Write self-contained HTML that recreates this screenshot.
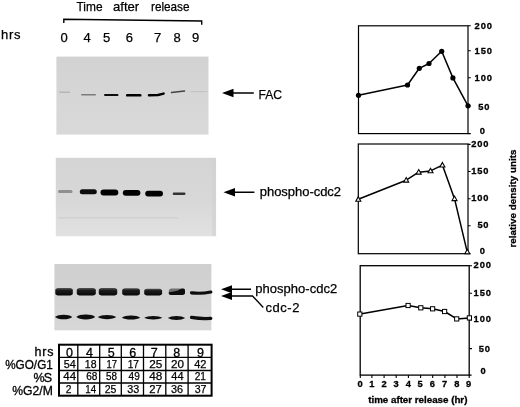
<!DOCTYPE html>
<html>
<head>
<meta charset="utf-8">
<title>Time after release</title>
<style>
html,body{margin:0;padding:0;background:#fff;}
body{width:520px;height:407px;overflow:hidden;}
svg{display:block;}
text{font-family:"Liberation Sans",sans-serif;fill:#000;}
.lab{font-size:13px;stroke:#000;stroke-width:0.25px;}
.ax{font-size:9.3px;font-weight:bold;stroke:#000;stroke-width:0.3px;}
.hd{font-size:12.5px;stroke:#000;stroke-width:0.3px;}
.cell{font-size:11px;stroke:#000;stroke-width:0.25px;}
</style>
</head>
<body>
<svg width="520" height="407" viewBox="0 0 520 407">
<defs>
  <filter id="b1" x="-20%" y="-100%" width="140%" height="300%"><feGaussianBlur stdDeviation="0.6"/></filter>
  <filter id="b2" x="-20%" y="-100%" width="140%" height="300%"><feGaussianBlur stdDeviation="0.9"/></filter>
  <filter id="b3" x="-20%" y="-100%" width="140%" height="300%"><feGaussianBlur stdDeviation="0.7"/></filter>
  <filter id="bg" x="-5%" y="-5%" width="110%" height="110%"><feGaussianBlur stdDeviation="0.7"/></filter>
  <linearGradient id="g1" x1="0" y1="0" x2="0" y2="1">
    <stop offset="0" stop-color="#d2d2d2"/><stop offset="0.5" stop-color="#d6d6d6"/><stop offset="1" stop-color="#d9d9d9"/>
  </linearGradient>
  <linearGradient id="g2" x1="0" y1="0" x2="0" y2="1">
    <stop offset="0" stop-color="#d4d4d4"/><stop offset="0.55" stop-color="#d8d8d8"/><stop offset="1" stop-color="#e1e1e1"/>
  </linearGradient>
  <linearGradient id="g3" x1="0" y1="0" x2="0" y2="1">
    <stop offset="0" stop-color="#cfcfcf"/><stop offset="0.5" stop-color="#d3d3d3"/><stop offset="1" stop-color="#d7d7d7"/>
  </linearGradient>
  <linearGradient id="gb" x1="0" y1="0" x2="0" y2="1">
    <stop offset="0" stop-color="#555"/><stop offset="0.3" stop-color="#1c1c1c"/><stop offset="1" stop-color="#060606"/>
  </linearGradient>
</defs>
<rect width="520" height="407" fill="#fff"/>

<!-- header -->
<text class="lab" x="76.5" y="10.9" textLength="26" lengthAdjust="spacingAndGlyphs">Time</text>
<text class="lab" x="113" y="10.9" textLength="26.2" lengthAdjust="spacingAndGlyphs">after</text>
<text class="lab" x="151" y="10.9" textLength="38.5" lengthAdjust="spacingAndGlyphs">release</text>
<path d="M63.8 23 V19.3 L201.7 21 V24.8" fill="none" stroke="#000" stroke-width="1.4"/>
<text class="lab" x="1" y="39" textLength="19.5">hrs</text>
<g class="lab" text-anchor="middle">
<text x="64" y="42.1">0</text>
<text x="87" y="42.1">4</text>
<text x="106.7" y="42.1">5</text>
<text x="129.4" y="42.1">6</text>
<text x="157.5" y="42.1">7</text>
<text x="177" y="42.1">8</text>
<text x="195.5" y="42.1">9</text>
</g>

<!-- blot 1 -->
<rect x="56.4" y="56.6" width="152.1" height="78" fill="url(#g1)" filter="url(#bg)"/>
<g filter="url(#b1)">
<rect x="59" y="91.6" width="11" height="1.4" rx="0.7" fill="#9a9a9a" opacity="0.55"/>
<rect x="81" y="94" width="15" height="1.6" rx="0.8" fill="#555" opacity="0.7"/>
<rect x="104" y="94" width="14.5" height="2" rx="1" fill="#0a0a0a"/>
<rect x="126" y="94.1" width="15.5" height="2.5" rx="1.2" fill="#050505"/>
<path d="M149 95.2 L158 95 L163.6 93.6" fill="none" stroke="#050505" stroke-width="2.5" stroke-linecap="round" stroke-linejoin="round"/>
<path d="M171.5 92.6 L184.5 91" fill="none" stroke="#444" stroke-width="1.5" stroke-linecap="round"/>
<rect x="190.5" y="91" width="17" height="1.2" fill="#b8b8b8" opacity="0.6"/>
</g>
<path d="M222 93 L233.5 88.8 L233.5 97.2 Z M233 92.3 H253.8 V93.7 H233 Z" fill="#000"/>
<text class="lab" x="258.5" y="99" textLength="23.5" lengthAdjust="spacingAndGlyphs">FAC</text>

<!-- blot 2 -->
<rect x="55.8" y="157.8" width="160.3" height="78.5" fill="url(#g2)" filter="url(#bg)"/>
<rect x="212" y="158.5" width="4" height="77" fill="#d2d2d2" opacity="0.6" filter="url(#bg)"/>
<g filter="url(#b3)">
<rect x="58" y="189.9" width="14.5" height="3" rx="1.5" fill="#777" opacity="0.75"/>
<rect x="79.8" y="189.2" width="17" height="5" rx="2.5" fill="#0a0a0a"/>
<rect x="100.5" y="189.4" width="17.8" height="6" rx="3" fill="#050505"/>
<rect x="122.8" y="189.9" width="17.6" height="5.8" rx="2.9" fill="#050505"/>
<rect x="145.2" y="190.7" width="17.8" height="5.8" rx="2.9" fill="#050505"/>
<rect x="172.7" y="192.5" width="12.8" height="2.4" rx="1.2" fill="#333"/>
<rect x="58" y="217" width="120" height="1.4" fill="#cbcbcb" opacity="0.7"/>
</g>
<path d="M223.5 192.3 L235 188.1 L235 196.5 Z M234.5 191.6 H254.4 V193 H234.5 Z" fill="#000"/>
<text class="lab" x="259.8" y="196.3" textLength="81.2" lengthAdjust="spacing">phospho-cdc2</text>

<!-- blot 3 -->
<rect x="54.4" y="264" width="157" height="66.3" fill="url(#g3)" filter="url(#bg)"/>
<g filter="url(#b1)">
<path d="M55.3 293.5 V290.3 Q55.3 288.40000000000003 58.3 288.1 H69.8 Q72.8 288.40000000000003 72.8 290.3 V293.5 Q72.3 295.5 68.8 295.5 H59.3 Q55.8 295.5 55.3 293.5 Z" fill="url(#gb)"/>
<path d="M76.8 293.5 V290.3 Q76.8 288.40000000000003 79.8 288.1 H92.8 Q95.8 288.40000000000003 95.8 290.3 V293.5 Q95.3 295.5 91.8 295.5 H80.8 Q77.3 295.5 76.8 293.5 Z" fill="url(#gb)"/>
<path d="M98.8 293.5 V290.3 Q98.8 288.40000000000003 101.8 288.1 H114.2 Q117.2 288.40000000000003 117.2 290.3 V293.5 Q116.7 295.5 113.2 295.5 H102.8 Q99.3 295.5 98.8 293.5 Z" fill="url(#gb)"/>
<path d="M122.2 293.5 V290.4 Q122.2 288.5 125.2 288.2 H136.9 Q139.9 288.5 139.9 290.4 V293.5 Q139.4 295.5 135.9 295.5 H126.2 Q122.7 295.5 122.2 293.5 Z" fill="url(#gb)"/>
<path d="M144.2 293.5 V290.9 Q144.2 289.0 147.2 288.7 H159.1 Q162.1 289.0 162.1 290.9 V293.5 Q161.6 295.5 158.1 295.5 H148.2 Q144.7 295.5 144.2 293.5 Z" fill="url(#gb)"/>
<path d="M168.8 293.4 V291 Q168.8 288.6 172 288.4 H182 Q185 288.4 185 290.4 V293 Q184.6 295 181 295 H172.8 Q169.2 295 168.8 293.4 Z" fill="#707070"/>
<path d="M168.8 293.4 V292.2 Q174 291.4 178 290.4 Q180.5 288.6 183 288.6 Q185 288.8 185 290.4 V293 Q184.6 295 181 295 H172.8 Q169.2 295 168.8 293.4 Z" fill="#0c0c0c"/>
<path d="M191.5 292.8 Q201 294 210.8 292" fill="none" stroke="#0a0a0a" stroke-width="3.2" stroke-linecap="round"/>
<path d="M55 317 Q58 314.7 63.65 314.7 Q69.3 314.7 72.3 317 Q69.3 319.3 63.65 319.3 Q58 319.3 55 317 Z" fill="#0a0a0a"/>
<path d="M76.3 317 Q79.3 314.6 85.75 314.6 Q92.2 314.6 95.2 317 Q92.2 319.4 85.75 319.4 Q79.3 319.4 76.3 317 Z" fill="#0a0a0a"/>
<path d="M97.8 317.1 Q100.8 315.0 107.0 315.0 Q113.2 315.0 116.2 317.1 Q113.2 319.20000000000005 107.0 319.20000000000005 Q100.8 319.20000000000005 97.8 317.1 Z" fill="#0a0a0a"/>
<path d="M121.8 317.5 Q124.8 315.5 131.0 315.5 Q137.2 315.5 140.2 317.5 Q137.2 319.5 131.0 319.5 Q124.8 319.5 121.8 317.5 Z" fill="#0a0a0a"/>
<path d="M144.3 317.7 Q147.3 316.0 153.25 316.0 Q159.2 316.0 162.2 317.7 Q159.2 319.4 153.25 319.4 Q147.3 319.4 144.3 317.7 Z" fill="#0a0a0a"/>
<path d="M167.8 318 Q170.8 316.1 176.5 316.1 Q182.2 316.1 185.2 318 Q182.2 319.9 176.5 319.9 Q170.8 319.9 167.8 318 Z" fill="#0a0a0a"/>
<path d="M191.5 317.4 Q201 319 210.8 318.4" fill="none" stroke="#0a0a0a" stroke-width="3.2" stroke-linecap="round"/>
</g>
<path d="M221 289.2 L232 285.2 L232 293.2 Z M231.5 288.5 H251 V289.9 H231.5 Z" fill="#000"/>
<path d="M221 296 L232 292 L232 300 Z" fill="#000"/>
<path d="M231.5 296 H252.5 L263.3 307.5" fill="none" stroke="#000" stroke-width="1.4"/>
<text class="lab" x="255.2" y="293.3" textLength="82" lengthAdjust="spacing">phospho-cdc2</text>
<text class="lab" x="265.4" y="312.1" textLength="34" lengthAdjust="spacing">cdc-2</text>

<!-- table -->
<g class="hd" text-anchor="end">
<text x="53.5" y="355.8" textLength="19">hrs</text>
<text x="52.8" y="369.2" textLength="47.6" lengthAdjust="spacingAndGlyphs">%GO/G1</text>
<text x="52.2" y="382.3" textLength="18.6" lengthAdjust="spacing">%S</text>
<text x="52.8" y="395" textLength="40.6" lengthAdjust="spacingAndGlyphs">%G2/M</text>
</g>
<rect x="59" y="344.7" width="152.6" height="51" fill="#fff" stroke="#000" stroke-width="2"/>
<path d="M59 357.4 H211.6 M59 370.5 H211.6 M59 383 H211.6 M77.8 344.7 V395.7 M99.7 344.7 V395.7 M121.3 344.7 V395.7 M143.5 344.7 V395.7 M165.8 344.7 V395.7 M188.1 344.7 V395.7" fill="none" stroke="#000" stroke-width="1.3"/>
<g class="hd" text-anchor="middle">
<text x="69.4" y="356.5">0</text>
<text x="89.4" y="356.5">4</text>
<text x="111.2" y="356.5">5</text>
<text x="132.8" y="356.5">6</text>
<text x="154.2" y="356.5">7</text>
<text x="176.7" y="356.5">8</text>
<text x="200.4" y="356.5">9</text>
</g>
<g class="cell">
<text x="63.7" y="367.8" textLength="12.1" lengthAdjust="spacingAndGlyphs">54</text>
<text x="84.8" y="367.8" textLength="11.7" lengthAdjust="spacingAndGlyphs">18</text>
<text x="106.4" y="367.8" textLength="10.5" lengthAdjust="spacingAndGlyphs">17</text>
<text x="127.7" y="367.8" textLength="11.3" lengthAdjust="spacingAndGlyphs">17</text>
<text x="149.2" y="367.8" textLength="13.1" lengthAdjust="spacingAndGlyphs">25</text>
<text x="171" y="367.8" textLength="13" lengthAdjust="spacingAndGlyphs">20</text>
<text x="194.2" y="367.8" textLength="12.3" lengthAdjust="spacingAndGlyphs">42</text>

<text x="63.3" y="380.4" textLength="12.7" lengthAdjust="spacingAndGlyphs">44</text>
<text x="86.2" y="380.4" textLength="11.2" lengthAdjust="spacingAndGlyphs">68</text>
<text x="106" y="380.4" textLength="11" lengthAdjust="spacingAndGlyphs">58</text>
<text x="128.6" y="380.4" textLength="11.2" lengthAdjust="spacingAndGlyphs">49</text>
<text x="149.2" y="380.4" textLength="13.1" lengthAdjust="spacingAndGlyphs">48</text>
<text x="171.3" y="380.4" textLength="12.2" lengthAdjust="spacingAndGlyphs">44</text>
<text x="194.7" y="380.4" textLength="11.3" lengthAdjust="spacingAndGlyphs">21</text>

<text x="65.7" y="393.4" textLength="5.7" lengthAdjust="spacingAndGlyphs">2</text>
<text x="85.3" y="393.4" textLength="10.9" lengthAdjust="spacingAndGlyphs">14</text>
<text x="104.7" y="393.4" textLength="11.7" lengthAdjust="spacingAndGlyphs">25</text>
<text x="127.3" y="393.4" textLength="12" lengthAdjust="spacingAndGlyphs">33</text>
<text x="149.2" y="393.4" textLength="12.6" lengthAdjust="spacingAndGlyphs">27</text>
<text x="171" y="393.4" textLength="12.1" lengthAdjust="spacingAndGlyphs">36</text>
<text x="194.7" y="393.4" textLength="11.8" lengthAdjust="spacingAndGlyphs">37</text>
</g>

<!-- chart 1 -->
<g fill="none" stroke="#000">
<rect x="358.5" y="25.8" width="109.5" height="107.8" stroke-width="1.2"/>
<path d="M468 25.8 H470.8 M468 50.8 H470.8 M468 77.8 H470.8 M468 106 H470.8 M468 133.6 H470.8" stroke-width="1.1"/>
<path d="M358.5 95.3 L407.5 85 L419.3 68.3 L429 63.5 L441.7 51.3 L452.9 77.9 L468 105.8" stroke-width="1.5" stroke-linejoin="round"/>
</g>
<g fill="#000">
<circle cx="358.5" cy="95.3" r="2.6"/><circle cx="407.5" cy="85" r="2.6"/><circle cx="419.3" cy="68.3" r="2.6"/><circle cx="429" cy="63.5" r="2.6"/><circle cx="441.7" cy="51.3" r="2.6"/><circle cx="452.9" cy="77.9" r="2.6"/><circle cx="468" cy="105.8" r="2.6"/>
</g>
<g class="ax">
<text x="474.5" y="28.7" textLength="17.5" lengthAdjust="spacing">200</text>
<text x="474.5" y="53.7" textLength="17.5" lengthAdjust="spacing">150</text>
<text x="474.5" y="80.7" textLength="17.5" lengthAdjust="spacing">100</text>
<text x="478.3" y="109.5" textLength="11" lengthAdjust="spacing">50</text>
<text x="479.7" y="133.7">0</text>
</g>

<!-- chart 2 -->
<g fill="none" stroke="#000">
<rect x="358.3" y="144" width="109.7" height="109.7" stroke-width="1.2"/>
<path d="M468 144.4 H470.6 M468 171.5 H470.6 M468 198.7 H470.6 M468 225.8 H470.6 M468 253.7 H470.6" stroke-width="1.1"/>
<path d="M358.3 199.3 L406.2 180.2 L418.7 172.2 L430.5 170.9 L442.4 165.1 L454.5 198.7 L467.3 252.4" stroke-width="1.5" stroke-linejoin="round"/>
</g>
<g fill="#fff" stroke="#000" stroke-width="1.1">
<path d="M358.3 196.7 l2.5 4.5 h-5 z"/>
<path d="M406.2 177.6 l2.5 4.5 h-5 z"/>
<path d="M418.7 169.6 l2.5 4.5 h-5 z"/>
<path d="M430.5 168.3 l2.5 4.5 h-5 z"/>
<path d="M442.4 162.5 l2.5 4.5 h-5 z"/>
<path d="M454.5 196.1 l2.5 4.5 h-5 z"/>
<path d="M467.3 249.3 l2.5 4.5 h-5 z"/>
</g>
<g class="ax">
<text x="471.3" y="146.8" textLength="17.2" lengthAdjust="spacing">200</text>
<text x="471.3" y="174.0" textLength="17.2" lengthAdjust="spacing">150</text>
<text x="471.3" y="201.2" textLength="17.2" lengthAdjust="spacing">100</text>
<text x="477.5" y="228.3" textLength="11" lengthAdjust="spacing">50</text>
<text x="479.7" y="254.0">0</text>
</g>
<text class="ax" style="font-size:9.8px" transform="translate(516.2 247.6) rotate(-90)" textLength="98" lengthAdjust="spacing">relative density units</text>

<!-- chart 3 -->
<g fill="none" stroke="#000">
<rect x="360.2" y="265.7" width="109" height="109.4" stroke-width="1.3"/>
<path d="M469.2 265.7 H472 M469.2 293.3 H472 M469.2 320 H472 M469.2 348.6 H472 M469.2 375.1 H471.6" stroke-width="1.1"/>
<path d="M360.3 375.1 V378 M371.9 375.1 V378 M384.1 375.1 V378 M396.2 375.1 V378 M408.4 375.1 V378 M420.6 375.1 V378 M432.7 375.1 V378 M444.9 375.1 V378 M457 375.1 V378 M469.2 375.1 V378" stroke-width="1.1"/>
<path d="M360.2 314.1 L408.1 305.5 L420.8 307.8 L432.6 308.8 L444.6 311.5 L456.7 318.9 L469.4 317.9" stroke-width="1.5" stroke-linejoin="round"/>
</g>
<g fill="#fff" stroke="#000" stroke-width="1">
<rect x="357.7" y="312.0" width="4.2" height="4.2"/>
<rect x="406.0" y="303.4" width="4.2" height="4.2"/>
<rect x="418.7" y="305.7" width="4.2" height="4.2"/>
<rect x="430.5" y="306.7" width="4.2" height="4.2"/>
<rect x="442.5" y="309.4" width="4.2" height="4.2"/>
<rect x="454.6" y="316.8" width="4.2" height="4.2"/>
<rect x="467.3" y="315.8" width="4.2" height="4.2"/>
</g>
<g class="ax">
<text x="473.6" y="268.0" textLength="17.4" lengthAdjust="spacing">200</text>
<text x="473.6" y="295.8" textLength="17.4" lengthAdjust="spacing">150</text>
<text x="473.6" y="322.4" textLength="17.4" lengthAdjust="spacing">100</text>
<text x="478.7" y="351.6" textLength="11.2" lengthAdjust="spacing">50</text>
<text x="480.6" y="373.8">0</text>
</g>
<g class="ax" text-anchor="middle">
<text x="360" y="386.7">0</text>
<text x="371.8" y="386.7">1</text>
<text x="384" y="386.7">2</text>
<text x="396.1" y="386.7">3</text>
<text x="408.3" y="386.7">4</text>
<text x="420.2" y="386.7">5</text>
<text x="432.4" y="386.7">6</text>
<text x="444.6" y="386.7">7</text>
<text x="456.9" y="386.7">8</text>
<text x="468.7" y="386.7">9</text>
</g>
<text class="ax" style="font-size:9.8px" x="368.2" y="402.5" textLength="99.2" lengthAdjust="spacing">time after release (hr)</text>
</svg>
</body>
</html>
